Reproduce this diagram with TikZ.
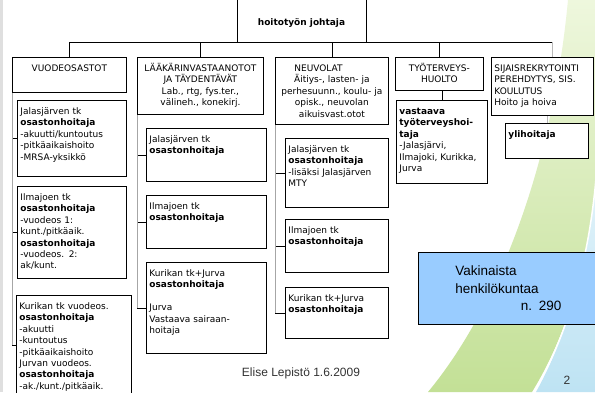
\documentclass[tikz,border=0pt]{standalone}
\usepackage{fontspec}
\setmainfont{DejaVu Sans}
\newfontfamily\slidefont{Liberation Sans}
\definecolor{countblue}{HTML}{99CCFF}
\definecolor{swooshpale}{HTML}{EEF7DD}
\definecolor{swooshgreen}{HTML}{C3E096}
\definecolor{swooshsky}{HTML}{E2F3FA}
\definecolor{swooshblue}{HTML}{BEE3F3}

\begin{document}
\begin{tikzpicture}[
    x=1pt, y=-1pt,
    every node/.style={font=\fontsize{9}{11.4}\selectfont},
    boxbase/.style={draw, fill=white, line width=0.8pt, anchor=north west,
                    inner xsep=3pt, inner ysep=4pt, text height=10pt},
    subbox/.style 2 args={boxbase, align=left, text width=#1, text depth=#2},
    colhead/.style 2 args={boxbase, align=center, text width=#1, text depth=#2},
    every edge/.style={draw, line width=0.8pt},
    spine/.style={draw, line width=0.8pt, gray!70},
    faint/.style={draw, line width=0.8pt, gray!55},
]
  \useasboundingbox (0,0) rectangle (595,392);
  % slide background
  \fill[white] (0,0) rectangle (595,392);
  \fill[gray!25] (0,0) rectangle (3,392);
  \shade[top color=swooshpale, bottom color=swooshgreen]
        (568,0) .. controls (552,170) and (496,310) .. (428,392) -- (532,392)
        .. controls (570,330) and (592,250) .. (597,160) -- (597,0) -- cycle;
  \shade[top color=swooshsky, bottom color=swooshblue]
        (597,170) .. controls (590,260) and (565,340) .. (536,392) -- (597,392) -- cycle;
  \draw[white, line width=1.5pt] (597,165) .. controls (591,255) and (568,335) .. (534,392);

  \coordinate (bus) at (0,42);
  \node [draw, fill=white, line width=0.8pt, minimum width=129pt, inner ysep=0pt,
         text height=36pt, text depth=16.5pt, anchor=base,
         font=\fontsize{9}{11.4}\selectfont\bfseries]
        (chief) at (301.5,25.5) {hoitotyön johtaja};

  % columns
  \node [colhead={108pt}{17pt}]   (ward)   at (12,57)  {VUODEOSASTOT}
                                               edge (ward.north |- bus);
  \node [colhead={120pt}{39pt}]   (clinic) at (137,57) {LÄÄKÄRINVASTAANOTOT\\JA TÄYDENTÄVÄT\\Lab., rtg, fys.ter.,\\välineh., konekirj.}
                                               edge (clinic.north |- bus);
  \node [colhead={107pt}{49pt}]   (child)  at (275,57) {\hspace*{16pt}NEUVOLAT\hfill\null\\Äitiys-, lasten- ja\\perhesuunn., koulu- ja\\opisk., neuvolan\\aikuisvast.otot}
                                               edge (child.north |- bus);
  \node [colhead={82pt}{15pt}]    (occup)  at (395,57) {TYÖTERVEYS-\\HUOLTO}
                                               edge (occup.north |- bus);
  \node [subbox={96pt}{40pt}]     (subst)  at (491,57) {SIJAISREKRYTOINTI\\PEREHDYTYS, SIS.\\KOULUTUS\\Hoito ja hoiva};
  \coordinate (substdrop) at ([xshift=10pt]subst.north);
  \draw [faint] (substdrop) -- (substdrop |- bus);
  \draw [line width=0.8pt] (ward.north |- bus) -- (substdrop |- bus);

  % vuodeosastot
  \node [subbox={103pt}{58pt}] (wardJ) at (17,100) {Jalasjärven tk\\\textbf{osastonhoitaja}\\-akuutti/kuntoutus\\-pitkäaikaishoito\\-MRSA-yksikkö}
                                              edge (ward.south west |- wardJ.west);
  \node [subbox={103pt}{74pt}] (wardI) at (17,186) {Ilmajoen tk\\\textbf{osastonhoitaja}\\-vuodeos 1:\\kunt./pitkäaik.\\\textbf{osastonhoitaja}\\-vuodeos. 2:\\ak/kunt.}
                                              edge (ward.south west |- wardI.west);
  \node [subbox={109pt}{82pt}] (wardK) at (16,295) {Kurikan tk vuodeos.\\\textbf{osastonhoitaja}\\-akuutti\\-kuntoutus\\-pitkäaikaishoito\\Jurvan vuodeos.\\\textbf{osastonhoitaja}\\-ak./kunt./pitkäaik.}
                                              edge (ward.south west |- wardK.west);
  \draw [spine] (ward.south west) -- (ward.south west |- wardK.west);

  % vastaanotot
  \node [subbox={114pt}{35pt}] (clinicJ) at (146,128) {Jalasjärven tk\\\textbf{osastonhoitaja}}
                                              edge (clinic.south west |- clinicJ.west);
  \node [subbox={114pt}{35pt}] (clinicI) at (146,195) {Ilmajoen tk\\\textbf{osastonhoitaja}}
                                              edge (clinic.south west |- clinicI.west);
  \node [subbox={114pt}{73pt}] (clinicK) at (146,262) {Kurikan tk+Jurva\\\textbf{osastonhoitaja}\\[11.4pt]Jurva\\Vastaava sairaan-\\hoitaja}
                                              edge (clinic.south west |- clinicK.west);
  \draw [spine] (clinic.south west) -- (clinic.south west |- clinicK.west);

  % neuvolat
  \node [subbox={97pt}{51pt}] (childJ) at (285,138) {Jalasjärven tk\\\textbf{osastonhoitaja}\\-lisäksi Jalasjärven\\MTY}
                                              edge (child.south west |- childJ.west);
  \node [subbox={97pt}{35pt}] (childI) at (285,219) {Ilmajoen tk\\\textbf{osastonhoitaja}}
                                              edge (child.south west |- childI.west);
  \node [subbox={97pt}{33pt}] (childK) at (285,287) {Kurikan tk+Jurva\\\textbf{osastonhoitaja}}
                                              edge (child.south west |- childK.west);
  \draw [spine] (child.south west) -- (child.south west |- childK.west);

  % tyoterveyshuolto, sijaisrekrytointi
  \node [subbox={85pt}{65pt}] (occupV) at (396,100) {\textbf{vastaava}\\\textbf{työterveyshoi-}\\\textbf{taja}\\-Jalasjärvi,\\Ilmajoki, Kurikka,\\Jurva}
                                              edge (occupV.north |- occup.south);
  \node [subbox={77pt}{17pt}] (substY) at (505,123) {\textbf{ylihoitaja}};
  \draw [faint] (substY.north) -- (substY.north |- subst.south);

  \node [draw, fill=countblue, line width=0.8pt, anchor=north west, inner xsep=37pt,
         minimum height=72pt, align=left, text width=106pt,
         font=\slidefont\fontsize{13.5}{17.7}\selectfont]
        (staff) at (418,252) {Vakinaista\\henkilökuntaa\\\hfill n. 290};

  \node [font=\slidefont\fontsize{12}{14}\selectfont, text=black!80] (author) at (301,373) {Elise Lepistö 1.6.2009};
  \node [font=\slidefont\fontsize{12}{14}\selectfont, text=black!80] (page)   at (567,380) {2};
\end{tikzpicture}
\end{document}
